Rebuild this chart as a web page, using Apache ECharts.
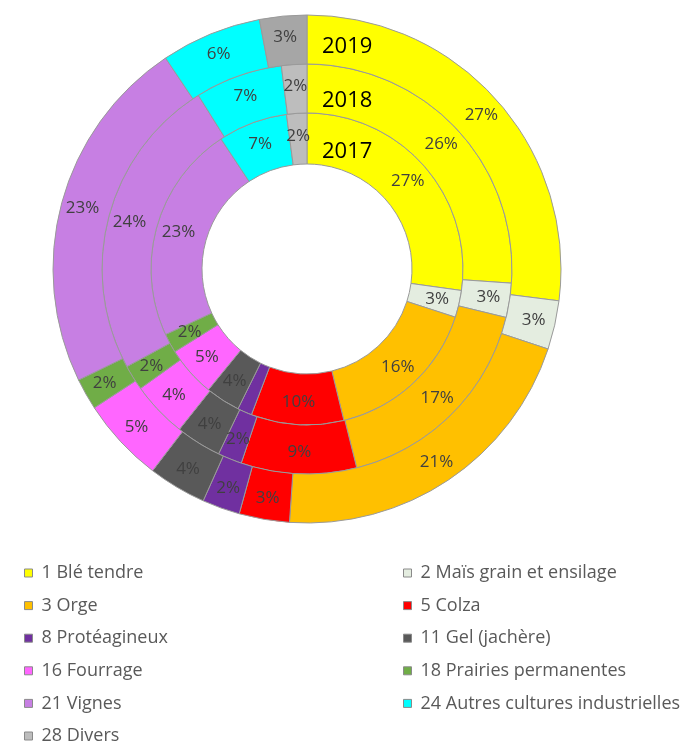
<!DOCTYPE html>
<html>
<head>
<meta charset="utf-8">
<script src="https://cdn.jsdelivr.net/npm/echarts@6/dist/echarts.min.js"></script>
<style>
html,body{margin:0;padding:0;background:#fff;}
#chart{width:697px;height:748px;}
</style>
</head>
<body>
<div id="chart"></div>
<script>
// Categories (clockwise from 12 o'clock)
const categories = [
  '1 Blé tendre', '2 Maïs grain et ensilage', '3 Orge', '5 Colza', '8 Protéagineux',
  '11 Gel (jachère)', '16 Fourrage', '18 Prairies permanentes', '21 Vignes',
  '24 Autres cultures industrielles', '28 Divers'
];
const years = ['2017', '2018', '2019'];
// Shares (%) per year
const values2017 = [27.2, 2.8, 16.2, 9.6, 1.5, 3.6, 5.2, 2.0, 22.6, 7.2, 2.1];
const values2018 = [26.1, 2.7, 17.3, 9.1, 1.9, 3.6, 4.4, 2.0, 24.0, 6.9, 2.0];
const values2019 = [27.0, 3.1, 21.0, 3.2, 2.4, 3.7, 5.4, 2.0, 22.8, 6.4, 3.0];
// Legend column order
const legendLeft = ['1 Blé tendre', '3 Orge', '8 Protéagineux', '16 Fourrage', '21 Vignes', '28 Divers'];
const legendRight = ['2 Maïs grain et ensilage', '5 Colza', '11 Gel (jachère)', '18 Prairies permanentes', '24 Autres cultures industrielles'];

const colors = ['#FFFF00', '#E4EDE0', '#FFC000', '#FF0000', '#7030A0', '#595959',
                '#FF66FF', '#70AD47', '#C77FE3', '#00FFFF', '#BDBDBD'];
const diversOuter = '#A6A6A6';

const valueSets = [values2017, values2018, values2019];
const radii = [[105, 156], [156, 205], [205, 254]];
const FONT = 'Open Sans';

const series = valueSets.map((vals, k) => ({
  type: 'pie',
  name: years[k],
  center: [307, 269],
  radius: radii[k],
  startAngle: 90,
  clockwise: true,
  avoidLabelOverlap: false,
  silent: true,
  itemStyle: { borderColor: '#9a9a9a', borderWidth: 1 },
  label: {
    show: true,
    position: 'inside',
    color: '#404040',
    fontFamily: FONT,
    fontSize: 17,
    formatter: p => Math.round(p.percent) + '%'
  },
  labelLine: { show: false },
  emphasis: { disabled: true },
  data: categories.map((c, i) => ({
    name: c,
    value: vals[i],
    itemStyle: { color: (i === 10 && k === 2) ? diversOuter : colors[i] }
  }))
}));

const legendCommon = {
  orient: 'vertical',
  top: 563,
  height: 185,
  padding: 0,
  icon: 'rect',
  itemWidth: 8,
  itemHeight: 8,
  itemGap: 12.6,
  selectedMode: false,
  itemStyle: { borderColor: '#8a8a8a', borderWidth: 1 },
  textStyle: { fontFamily: FONT, fontSize: 18, lineHeight: 20, color: '#595959', padding: [0, 0, 0, 4] }
};

const chart = echarts.init(document.getElementById('chart'), null, { renderer: 'canvas' });
chart.setOption({
  animation: false,
  backgroundColor: '#ffffff',
  color: colors,
  legend: [
    Object.assign({}, legendCommon, { left: 24, data: legendLeft }),
    Object.assign({}, legendCommon, { left: 403, data: legendRight })
  ],
  graphic: {
    elements: [2, 1, 0].map((k, j) => ({
      type: 'text',
      left: 322,
      top: [36, 90, 141][j],
      z: 100,
      zlevel: 1,
      style: { text: years[k], fontFamily: FONT, fontSize: 22, fill: '#000000' }
    }))
  },
  series: series
});
</script>
</body>
</html>
